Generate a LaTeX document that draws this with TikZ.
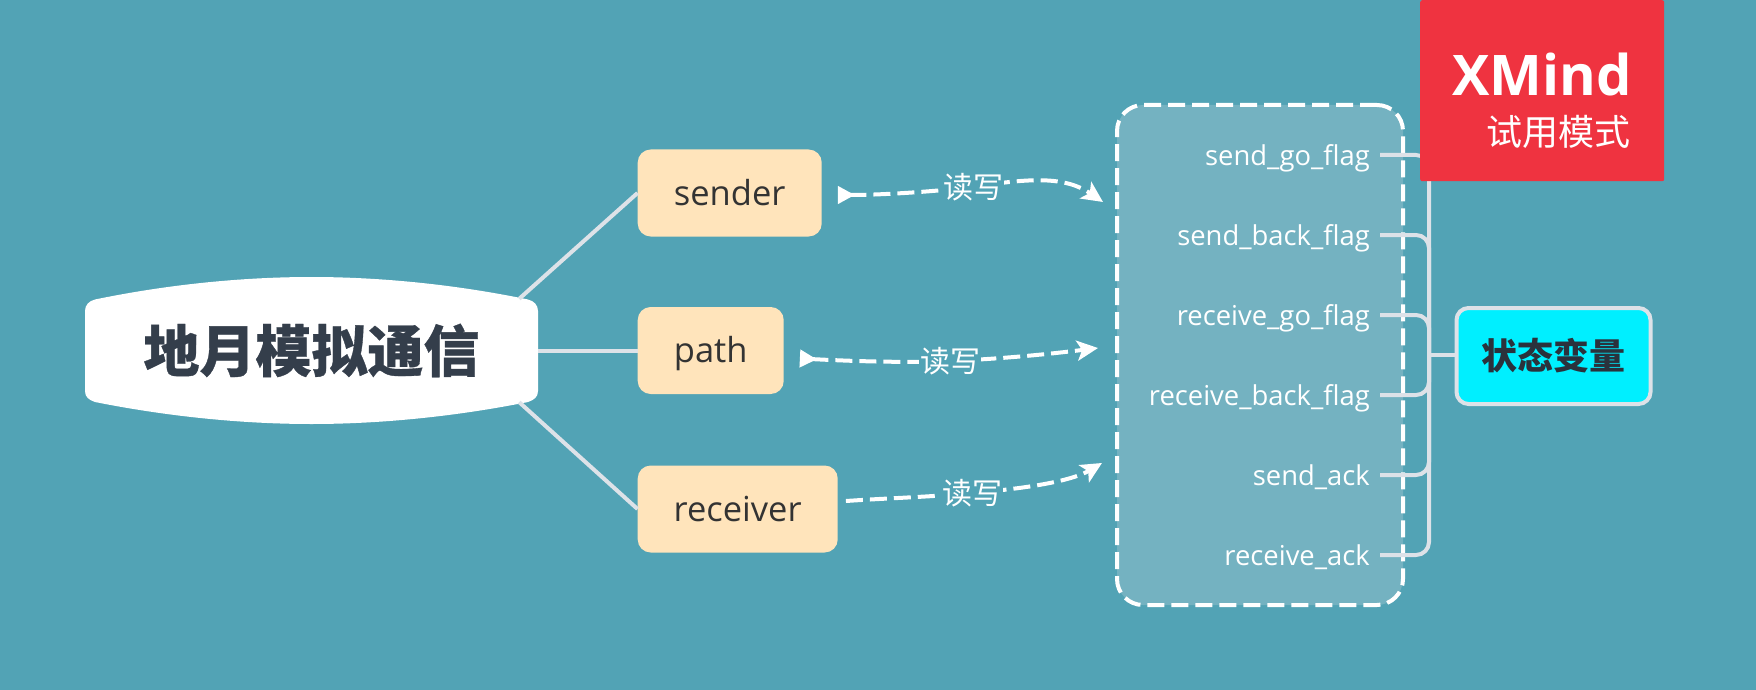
\documentclass[tikz,border=0pt]{standalone}
\usepackage{fontspec}
\setmainfont{Open Sans}
\newfontfamily\cjk{Noto Sans CJK SC}
\newfontfamily\cjkheavy{Noto Sans CJK SC}[BoldFeatures={FakeBold=0.6}]
\usetikzlibrary{positioning, calc, arrows.meta}
\definecolor{seacol}{RGB}{82,163,181}
\definecolor{panelcol}{RGB}{116,178,193}
\definecolor{sandcol}{RGB}{255,228,187}
\definecolor{linecol}{RGB}{221,226,232}
\definecolor{inkcol}{RGB}{51,51,51}
\definecolor{rootink}{RGB}{52,62,75}
\definecolor{redcol}{RGB}{239,51,64}
\definecolor{cyancol}{RGB}{0,239,255}
\tikzset{
    %Define style for boxes
    topicbox/.style={
           rectangle,
           rounded corners=13pt,
           fill=sandcol,
           text=inkcol,
           anchor=west,
           minimum height=87pt,
           text height=30pt,
           text depth=6pt,
           font=\fontsize{34.5}{38}\selectfont,
           text centered},
 %
    flaglabel/.style={
           anchor=east,
           inner sep=0pt,
           text height=20pt,
           text depth=0pt,
           text=white,
           font=\fontsize{27.4}{30}\selectfont},
 %
    rwlabel/.style={
           fill=seacol,
           inner sep=1pt,
           text=white,
           font=\cjk\fontsize{30}{32}\selectfont},
 %
    % Define line styles
    branch/.style={
           draw=linecol,
           line width=4pt,
           rounded corners=13pt},
    rwarrow/.style={
           white,
           line width=4pt,
           dash pattern=on 17pt off 7pt},
    rwboth/.style={
           {Triangle[reversed,length=17pt,width=17pt]}-{Stealth[length=21pt,width=20pt,inset=5pt]}},
    rwtip/.style={
           -{Stealth[length=21pt,width=20pt,inset=5pt]}}
}

\begin{document}
\begin{tikzpicture}[x=1pt,y=-1pt]
  \useasboundingbox (0,0) rectangle (1756,690);
  \fill[seacol] (0,0) rectangle (1756,690);

  % central topic
  \fill[white] (95,299.5) .. controls (165,285) and (240,277) .. (311.5,277)
     .. controls (383,277) and (458,285) .. (528,299.5)
     .. controls (534,301) and (538,305) .. (538,311) -- (538,391)
     .. controls (538,397) and (534,400) .. (528,402)
     .. controls (458,416) and (383,424) .. (311.5,424)
     .. controls (240,424) and (165,416) .. (95,402)
     .. controls (89,400) and (85,397) .. (85,391) -- (85,311)
     .. controls (85,305) and (89,301) .. (95,299.5) -- cycle;
  \node[minimum width=453pt, minimum height=103pt, inner sep=0pt, text=rootink,
        font=\cjkheavy\bfseries\fontsize{56}{60}\selectfont] (root) at (311.5,350.5) {地月模拟通信};

  \node[topicbox, minimum width=184pt] (sender) at (637.5,193) {sender};
  \node[topicbox, minimum width=146pt] (path) at (637.5,350.5) {path};
  \node[topicbox, minimum width=200pt] (receiver) at (637.5,509) {receiver};

  \draw[branch] ([xshift=-19pt]root.north east) -- (sender.west);
  \draw[branch] (root.east) -- (path.west);
  \draw[branch] ([xshift=-19pt]root.south east) -- (receiver.west);

  % panel of flags
  \node[rectangle, rounded corners=26pt, fill=panelcol, draw=white, line width=4pt,
        dash pattern=on 17pt off 7pt, minimum width=286pt, minimum height=500pt] (vars) at (1260,355) {};

  \node[flaglabel] (flaga) at (1370,155) {send\_go\_flag};
  \node[flaglabel] (flagb) at (1370,235) {send\_back\_flag};
  \node[flaglabel] (flagc) at (1370,315) {receive\_go\_flag};
  \node[flaglabel] (flagd) at (1370,395) {receive\_back\_flag};
  \node[flaglabel] (flage) at (1370,475) {send\_ack};
  \node[flaglabel] (flagf) at (1370,555) {receive\_ack};

  \node[rectangle, rounded corners=12pt, fill=cyancol, draw=linecol, line width=4pt,
        minimum width=194pt, minimum height=96pt, text=rootink!80!black,
        font=\cjk\bfseries\fontsize{36}{40}\selectfont] (state) at (1553.5,356) {状态变量};

  \coordinate (trunk) at (1429,355);
  \foreach \leaf in {flaga,flagb,flagc,flagd,flage,flagf}
     \draw[branch] ([xshift=10pt]\leaf.east) -| (trunk);
  \draw[branch] (trunk) -- (trunk -| state.west);

  % read and write arrows
  \draw[rwarrow, rwboth]
     ([xshift=16pt,yshift=-2pt]sender.east) .. controls (880,195) and (930,192) .. (973,187)
     node[rwlabel] (rwa) {读写}
     .. controls (1030,178) and (1065,176) .. ([xshift=-12pt,yshift=153pt]vars.west);
  \draw[rwarrow, rwboth]
     ([xshift=16pt,yshift=-8pt]path.east) .. controls (850,361) and (900,363) .. (950,361)
     node[rwlabel] (rwb) {读写}
     .. controls (1000,359) and (1050,354) .. ([xshift=-17pt,yshift=7pt]vars.west);
  \draw[rwarrow, rwtip]
     ([xshift=8pt,yshift=8pt]receiver.east) .. controls (890,498) and (930,497) .. (972,493)
     node[rwlabel] (rwc) {读写}
     .. controls (1020,489) and (1070,482) .. ([xshift=-13pt,yshift=-108pt]vars.west);

  % trial badge
  \node[rectangle, rounded corners=2pt, fill=redcol, anchor=north west,
        minimum width=244pt, minimum height=181pt] (badge) at (1420,0) {};
  \node[anchor=base east, inner sep=0pt, text=white,
        font=\bfseries\fontsize{56}{60}\selectfont] (brand) at (1632,96) {XMind};
  \node[anchor=east, inner sep=0pt, text=white,
        font=\cjk\fontsize{36}{40}\selectfont] (trial) at (1631,132) {试用模式};
\end{tikzpicture}
\end{document}
